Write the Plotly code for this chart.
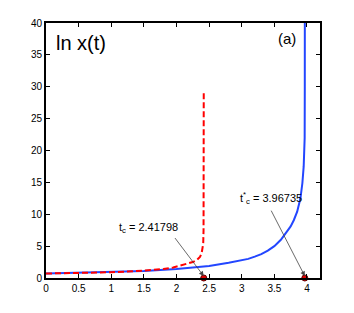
import plotly.graph_objects as go

# Blue solid curve (t*_c = 3.96735)
t_blue = [0, 0.5, 1.0, 1.5, 2.0, 2.5, 2.8, 3.0, 3.1, 3.2, 3.3, 3.4, 3.5, 3.6, 3.7, 3.75, 3.8, 3.85, 3.9, 3.93, 3.95, 3.96, 3.965, 3.967, 3.9674]
y_blue = [0.7, 0.8, 0.95, 1.1, 1.4, 1.9, 2.4, 2.75, 3.0, 3.35, 3.75, 4.3, 5.0, 6.0, 7.3, 8.1, 9.1, 10.4, 12.5, 14.9, 17.5, 19.5, 22, 30, 42]

# Red dashed curve (t_c = 2.41798)
t_red = [0, 0.5, 1.0, 1.5, 1.8, 1.95, 2.05, 2.15, 2.25, 2.31, 2.36, 2.385, 2.4, 2.41, 2.415, 2.417, 2.418]
y_red = [0.7, 0.8, 0.9, 1.15, 1.4, 1.65, 1.9, 2.2, 2.5, 2.8, 3.3, 3.85, 4.5, 5.4, 7.5, 12, 29.3]

# critical times
t_crit = [2.41798, 3.96735]
crit_labels = ["t<sub>c</sub> = 2.41798", "t<sup>*</sup><sub>c</sub> = 3.96735"]

x_ticks = [0, 0.5, 1, 1.5, 2, 2.5, 3, 3.5, 4]
x_ticklabels = ["0", "0.5", "1", "1.5", "2", "2.5", "3", "3.5", "4"]
y_ticks = [0, 5, 10, 15, 20, 25, 30, 35, 40]

fig = go.Figure()
fig.add_trace(go.Scatter(x=t_blue, y=y_blue, mode="lines",
                         line=dict(color="#2346ff", width=2), showlegend=False))
fig.add_trace(go.Scatter(x=t_red, y=y_red, mode="lines",
                         line=dict(color="#ff0000", width=2, dash="6px,3px"), showlegend=False))
fig.add_trace(go.Scatter(x=t_crit, y=[0, 0], mode="markers",
                         marker=dict(color="#e00000", size=6, line=dict(color="#600000", width=1)),
                         cliponaxis=False, showlegend=False))

font = dict(family="Liberation Sans, Arial, sans-serif", color="black")

# annotations with arrows
fig.add_annotation(x=2.41798, y=0.3, ax=1.96, ay=6.5, axref="x", ayref="y",
                   showarrow=True, arrowhead=2, arrowsize=1.2, arrowwidth=0.8,
                   arrowcolor="#444444", text="")
fig.add_annotation(x=3.96735, y=0.3, ax=3.44, ay=10.8, axref="x", ayref="y",
                   showarrow=True, arrowhead=2, arrowsize=1.2, arrowwidth=0.8,
                   arrowcolor="#444444", text="")
fig.add_annotation(x=1.57, y=7.9, text=crit_labels[0], showarrow=False,
                   font=dict(size=11, **font))
fig.add_annotation(x=3.45, y=12.6, text=crit_labels[1], showarrow=False,
                   font=dict(size=11, **font))
fig.add_annotation(x=0.54, y=36.9, text="ln x(t)", showarrow=False,
                   font=dict(size=20, **font))
fig.add_annotation(x=3.69, y=37.5, text="(a)", showarrow=False,
                   font=dict(size=15, **font))

axis_common = dict(showgrid=False, zeroline=False, showline=True, linecolor="black",
                   linewidth=2, mirror="ticks", ticks="inside", ticklen=4,
                   tickcolor="black", tickwidth=1, tickfont=dict(size=10, **font))
fig.update_xaxes(range=[0, 4.2], tickvals=x_ticks, ticktext=x_ticklabels, **axis_common)
fig.update_yaxes(range=[0, 40], tickvals=y_ticks, **axis_common)

fig.update_layout(width=354, height=313, margin=dict(l=46, r=34, t=23, b=35),
                  plot_bgcolor="white", paper_bgcolor="white")
fig.write_html("out.html", config={"displayModeBar": False},
               post_script="document.body.style.margin='0';")
